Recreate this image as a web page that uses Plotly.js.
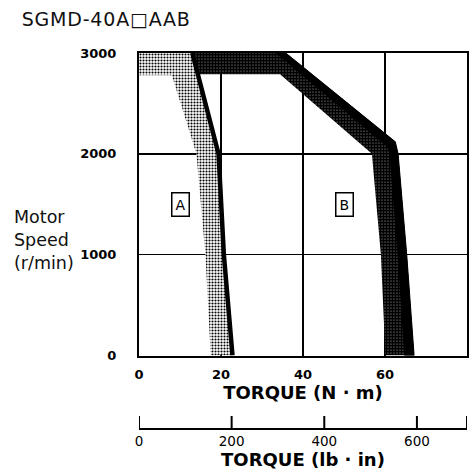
<!DOCTYPE html>
<html>
<head>
<meta charset="utf-8">
<script src="https://cdn.plot.ly/plotly-3.0.1.min.js"></script>
<style>
html,body{margin:0;padding:0;background:#fff;}
#chart{width:476px;height:473px;}
.gtitle{letter-spacing:0.8px;}
</style>
</head>
<body>
<div id="chart"></div>
<script>
// ---- data ----
const chartTitle = 'SGMD-40A\u25A1AAB';
const torqueTicks = [0, 20, 40, 60, 80];
const speedTicks = [0, 1000, 2000, 3000];
const lbinTickVals = [0, 200, 400, 600, 708.1];
const lbinTickText = ['0', '200', '400', '600', ''];
const lbinRange = [0, 708.1];
const torqueRange = [0, 80];
const speedRange = [0, 3000];

// Zone A: black boundary line and inner edge of the light band
const aLineTorque = [13, 19.4, 20.7, 22.8];
const aLineSpeed = [3000, 2000, 1000, 0];
const aInnerTorque = [0, 8, 14, 16.2, 17.5];
const aInnerSpeed = [2780, 2780, 2000, 1000, 0];

// Zone B: outer (black) edge and inner edge of the dark band
const bOuterTorque = [13, 35.8, 62.5, 63.2, 65.3, 67.1];
const bOuterSpeed = [3000, 3000, 2120, 2000, 1000, 0];
const bInnerTorque = [14.3, 34.4, 56.8, 59, 60.1];
const bInnerSpeed = [2790, 2790, 2000, 1000, 0];
const bEdgeTorque = [33.5, 60.6, 61.2, 63.2, 64.8];
const bEdgeSpeed = [3000, 2070, 2000, 1000, 0];

const zoneNames = ['A', 'B'];
const zoneTorque = [10.1, 50.1];
const zoneSpeed = [1500, 1500];

const yLabel = 'Motor<br>Speed<br>(r/min)';
const xTitle = 'TORQUE (N \u00B7 m)';
const x2Title = 'TORQUE (lb \u00B7 in)';

// ---- build polygons from the arrays ----
function ring(outerX, outerY, innerX, innerY, startX, startY) {
  const x = [], y = [];
  if (startX !== undefined) { x.push(startX); y.push(startY); }
  outerX.forEach((v, i) => { x.push(v); y.push(outerY[i]); });
  for (let i = innerX.length - 1; i >= 0; i--) { x.push(innerX[i]); y.push(innerY[i]); }
  return {x, y};
}
const aBand = ring(aLineTorque, aLineSpeed, aInnerTorque, aInnerSpeed, 0, 3000);
const bBand = ring(bOuterTorque, bOuterSpeed, bInnerTorque, bInnerSpeed);
const bEdge = ring(bOuterTorque.slice(1), bOuterSpeed.slice(1), bEdgeTorque, bEdgeSpeed);

// secondary-axis tick marks (short upward strokes at each lb·in tick)
const tickX = [], tickY = [];
lbinTickVals.forEach(v => { tickX.push(v, v, null); tickY.push(0, 0.64, null); });

const FONT = 'DejaVu Sans, Arial, sans-serif';

const traces = [
  {type: 'scatter', mode: 'lines', x: aBand.x, y: aBand.y, fill: 'toself',
   fillcolor: '#bdbdbd', line: {width: 0, color: 'rgba(0,0,0,0)'},
   fillpattern: {shape: '.', fgcolor: '#000', bgcolor: '#fff', size: 3, solidity: 0.38},
   hoverinfo: 'skip', showlegend: false},
  {type: 'scatter', mode: 'lines', x: bBand.x, y: bBand.y, fill: 'toself',
   fillcolor: '#444', line: {width: 0, color: 'rgba(0,0,0,0)'},
   fillpattern: {shape: '.', fgcolor: '#000', bgcolor: '#fff', size: 3, solidity: 0.85},
   hoverinfo: 'skip', showlegend: false},
  {type: 'scatter', mode: 'lines', x: bEdge.x, y: bEdge.y, fill: 'toself',
   fillcolor: '#000', line: {width: 1, color: '#000'},
   hoverinfo: 'skip', showlegend: false},
  {type: 'scatter', mode: 'lines', x: aLineTorque, y: aLineSpeed,
   line: {width: 4.5, color: '#000'}, hoverinfo: 'skip', showlegend: false},
  {type: 'scatter', mode: 'lines', x: tickX, y: tickY, xaxis: 'x2', yaxis: 'y2',
   line: {width: 2, color: '#000'}, connectgaps: false, cliponaxis: false,
   hoverinfo: 'skip', showlegend: false}
];

const annotations = zoneNames.map((n, i) => ({
  x: zoneTorque[i], y: zoneSpeed[i], xref: 'x', yref: 'y', text: n, showarrow: false,
  font: {family: FONT, size: 14, color: '#000'},
  bordercolor: '#000', borderwidth: 1.5, borderpad: 3, bgcolor: '#fff'
}));
annotations.push({
  xref: 'paper', yref: 'y', x: -0.388, y: 1146, xanchor: 'left', yanchor: 'middle',
  align: 'left', text: yLabel, showarrow: false,
  font: {family: FONT, size: 17.5, color: '#111'}
});

const layout = {
  width: 476, height: 473,
  margin: {l: 139, r: 9, t: 53, b: 45, pad: 0},
  paper_bgcolor: '#fff', plot_bgcolor: '#fff',
  title: {text: chartTitle, x: 0.0456, xanchor: 'left', y: 0.96, yanchor: 'middle',
          font: {family: FONT, size: 19, color: '#111'}},
  xaxis: {range: torqueRange, tickvals: torqueTicks, showgrid: true, gridcolor: '#000', gridwidth: 1.5,
          showline: true, mirror: true, linecolor: '#000', linewidth: 2, zeroline: false,
          ticks: '', ticklabelstandoff: 6,
          tickfont: {family: FONT, size: 13, color: '#000', weight: 'bold'},
          title: {text: xTitle, standoff: 2, font: {family: FONT, size: 18, color: '#000', weight: 'bold'}},
          fixedrange: true},
  yaxis: {range: speedRange, tickvals: speedTicks, domain: [0.1933, 1], showgrid: true, gridcolor: '#000', gridwidth: 1.5,
          showline: true, mirror: true, linecolor: '#000', linewidth: 2, zeroline: false,
          ticks: '', ticklabelstandoff: 18,
          tickfont: {family: FONT, size: 13, color: '#000', weight: 'bold'},
          fixedrange: true},
  xaxis2: {anchor: 'y2', domain: [0, 1], side: 'bottom', range: lbinRange,
           tickvals: lbinTickVals, ticktext: lbinTickText, showgrid: false, zeroline: false,
           showline: true, linecolor: '#000', linewidth: 2,
           ticks: '', ticklabelstandoff: 0,
           tickfont: {family: FONT, size: 13.5, color: '#000'},
           title: {text: x2Title, standoff: 0, font: {family: FONT, size: 18, color: '#000', weight: 'bold'}},
           fixedrange: true},
  yaxis2: {anchor: 'x2', domain: [0, 0.05], visible: false, range: [0, 1], fixedrange: true},
  annotations: annotations,
  showlegend: false
};

Plotly.newPlot('chart', traces, layout, {staticPlot: true, displayModeBar: false});
</script>
</body>
</html>
